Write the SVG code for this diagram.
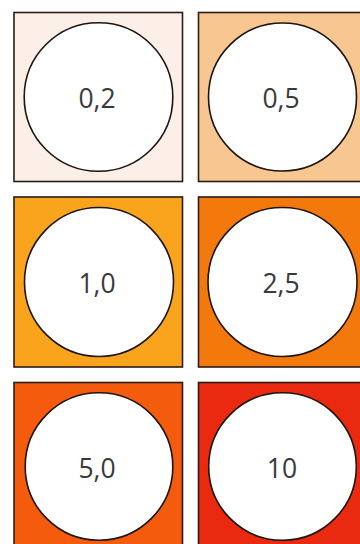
<svg xmlns="http://www.w3.org/2000/svg" width="360" height="544" viewBox="0 0 360 544">
<style>
.sq{stroke:#2b1d14;stroke-width:1.6}
.c{fill:#ffffff;stroke:#1e1510;stroke-width:1.6}
.t{font-family:"Open Sans","Noto Sans","Liberation Sans",sans-serif;font-size:26.5px;fill:#3a3a3a;text-anchor:middle}
</style>
<rect x="0" y="0" width="360" height="544" fill="#ffffff"/>
<g id="n1"><rect class="sq" x="14" y="12.5" width="168.5" height="169" fill="#fcefe8"/><circle class="c" cx="98.5" cy="97" r="74.3"/><text class="t" x="97" y="108">0,2</text></g>
<g id="n2"><rect class="sq" x="198.5" y="12.5" width="170" height="169" fill="#f8c690"/><circle class="c" cx="282.5" cy="97" r="74"/><text class="t" x="281" y="108">0,5</text></g>
<g id="n3"><rect class="sq" x="14" y="197" width="168.5" height="170" fill="#f9a41c"/><circle class="c" cx="99" cy="282" r="74.5"/><text class="t" x="97" y="293">1,0</text></g>
<g id="n4"><rect class="sq" x="198.5" y="197" width="170" height="170" fill="#f4790c"/><circle class="c" cx="282.5" cy="282" r="74.5"/><text class="t" x="281" y="293">2,5</text></g>
<g id="n5"><rect class="sq" x="14" y="382.5" width="168.5" height="170" fill="#f45b0c"/><circle class="c" cx="99" cy="466.5" r="73.8"/><text class="t" x="97" y="478">5,0</text></g>
<g id="n6"><rect class="sq" x="198.5" y="382.5" width="170" height="170" fill="#e92a10"/><circle class="c" cx="282.5" cy="466.5" r="73.8"/><text class="t" x="282" y="478">10</text></g>
<g id="connectors"></g>
</svg>
